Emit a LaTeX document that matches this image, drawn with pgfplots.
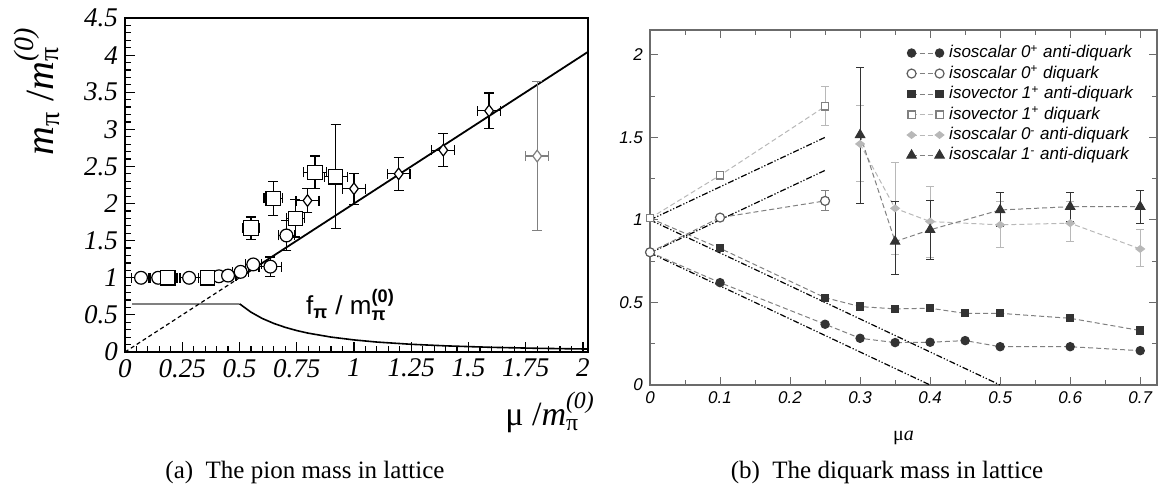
\documentclass[border=0pt]{standalone}
\usepackage{fontspec}
\setmainfont{Liberation Serif}
\newfontfamily\hel{Liberation Sans}
\usepackage{amsmath}
\usepackage{pgfplots}
\usepackage{pgfplotstable}
\pgfplotsset{compat=1.18}

\definecolor{dk}{gray}{0.2}
\definecolor{md}{gray}{0.5}
\definecolor{lt}{gray}{0.72}
\definecolor{frm}{gray}{0.42}

% (a) lattice points: x y ex ey
\pgfplotstableread{
x     y     ex    ey
0.07  1.00  0.04  0
0.145 1.00  0.04  0
0.28  1.00  0.04  0
0.41  1.02  0.035 0.02
0.45  1.03  0.035 0.02
0.505 1.08  0.035 0.03
0.56  1.18  0.035 0.03
0.635 1.15  0.05  0.13
0.705 1.57  0.035 0.20
}\circs
\pgfplotstableread{
x     y     ex    ey
0.187 1.00  0.04  0
0.36  1.00  0.04  0
0.55  1.67  0.035 0.15
0.647 2.07  0.04  0.23
0.744 1.80  0.04  0.25
0.83  2.42  0.05  0.22
0.92  2.36  0.05  0.70
}\squs
\pgfplotstableread{
x     y     ex    ey
0.797 2.04  0.05  0.16
1.0   2.20  0.05  0.21
1.195 2.40  0.05  0.22
1.39  2.72  0.05  0.22
1.59  3.25  0.05  0.24
}\dias
\pgfplotstableread{
x     y     ex    ey
1.80  2.64  0.05  1.0
}\diagray

\pgfplotsset{
  ebar/.style={error bars/.cd, x dir=both, x explicit, y dir=both, y explicit,
    error bar style={#1, solid, line width=0.6pt},
    error mark options={rotate=90, #1, solid, mark size=2.5pt, line width=0.6pt}},
  rbar/.style={error bars/.cd, y dir=both, y explicit,
    error bar style={#1, solid, line width=0.5pt},
    error mark options={rotate=90, #1, solid, mark size=2pt, line width=0.5pt}},
  ser/.style={#1, line width=0.5pt, dash pattern=on 2.5pt off 1.5pt},
  theo/.style={black, line width=0.6pt, dash pattern=on 3pt off 1pt on 0.6pt off 1pt on 0.6pt off 1pt, forget plot},
}

\begin{document}
\begin{tikzpicture}
\path[use as bounding box] (0pt,0pt) rectangle (581pt,-244pt);

\begin{axis}[
  at={(62.5pt,-176pt)}, anchor=south west,
  scale only axis, width=231.5pt, height=167pt,
  xmin=0, xmax=2.022, ymin=0, ymax=4.5,
  xtick={0,0.25,0.5,0.75,1,1.25,1.5,1.75,2},
  ytick={0,0.5,1,1.5,2,2.5,3,3.5,4,4.5},
  minor x tick num=4, minor y tick num=4,
  tick pos=left, tick align=inside,
  major tick length=5pt, minor tick length=3pt,
  axis line style={line width=0.9pt},
  every tick/.style={black, line width=0.6pt},
  /pgf/number format/assume math mode=true,
  tick label style={font=\itshape\fontsize{13.5}{14}\selectfont},
  xlabel={$\text{μ /}\text{\itshape m}_{\text{π}}^{\text{\itshape (0)}}$},
  x label style={at={(axis description cs:1.03,-0.1)}, anchor=north east,
    font=\fontsize{17}{18}\selectfont},
  ylabel={$\text{\itshape m}_{\text{π}}\ \text{/}\text{\itshape m}_{\text{π}}^{\text{\itshape (0)}}$},
  y label style={at={(axis description cs:-0.19,0.78)}, anchor=center,
    font=\fontsize{20}{21}\selectfont},
  clip=false,
]
% f_pi / m_pi
\addplot[md, line width=0.9pt] coordinates {(0.03,0.65) (0.5,0.65)};
\addplot[black, line width=0.8pt] coordinates {
  (0.5,0.65) (0.55,0.537) (0.6,0.451) (0.65,0.385) (0.7,0.332) (0.75,0.289)
  (0.8,0.254) (0.9,0.201) (1.0,0.163) (1.1,0.134) (1.25,0.104) (1.4,0.083)
  (1.6,0.063) (1.8,0.050) (2.0,0.041) (2.022,0.040)};
% m_pi = 2 mu
\addplot[black, line width=0.6pt, dash pattern=on 2pt off 1.5pt] coordinates {(0,0) (0.5,1)};
\addplot[black, line width=0.9pt] coordinates {(0.5,1) (2.022,4.044)};
% lattice data with error bars
\addplot[only marks, mark=*, mark size=3.2pt, mark options={draw=black, fill=white, line width=0.6pt}, ebar=black]
  table[x=x, y=y, x error=ex, y error=ey] {\circs};
\addplot[only marks, mark=square*, mark size=3.6pt, mark options={draw=black, fill=white, line width=0.6pt}, ebar=black]
  table[x=x, y=y, x error=ex, y error=ey] {\squs};
\addplot[only marks, mark=diamond*, mark size=2.9pt, mark options={draw=black, fill=white, line width=0.6pt}, ebar=black]
  table[x=x, y=y, x error=ex, y error=ey] {\dias};
\addplot[only marks, mark=diamond*, mark size=2.9pt, mark options={draw=md, fill=white, line width=0.6pt}, ebar=md]
  table[x=x, y=y, x error=ex, y error=ey] {\diagray};
\node[anchor=base west, font=\hel\fontsize{13}{14}\selectfont] at (axis cs:0.76,0.5)
  {$\text{f}_{\text{\bfseries π}}\ \text{/ m}_{\text{\bfseries π}}^{\text{\bfseries (0)}}$};
\end{axis}

\begin{axis}[
  at={(325pt,-192.5pt)}, anchor=south west,
  scale only axis, width=253.5pt, height=177.5pt,
  xmin=0, xmax=0.724, ymin=0, ymax=2.15,
  xtick={0,0.1,0.2,0.3,0.4,0.5,0.6,0.7},
  ytick={0,0.5,1,1.5,2},
  minor x tick num=1, minor y tick num=1,
  tick pos=both, tick align=inside,
  major tick length=4pt, minor tick length=2.5pt,
  axis line style={frm, line width=0.6pt},
  every tick/.style={frm, line width=0.5pt},
  /pgf/number format/assume math mode=true,
  tick label style={font=\hel\itshape\fontsize{8.5}{9}\selectfont},
  xlabel={μ\textit{a}},
  x label style={at={(axis description cs:0.5,-0.15)}, anchor=center,
    font=\fontsize{10}{11}\selectfont},
  legend style={at={(axis description cs:0.975,0.975)}, anchor=north east,
    draw=none, fill=none, font=\hel\itshape\fontsize{8.5}{9}\selectfont,
    row sep=0.5pt, nodes={inner ysep=1pt, inner xsep=2.5pt}},
  legend cell align=left,
  legend image code/.code={\draw[#1] plot coordinates {(0pt,0pt) (14pt,0pt)};},
]
% mean-field lines
\addplot[theo] coordinates {(0,1) (0.25,1.5)};
\addplot[theo] coordinates {(0,0.8) (0.25,1.3)};
\addplot[theo] coordinates {(0,1) (0.5,0)};
\addplot[theo] coordinates {(0,0.8) (0.4,0)};
% series
\addplot[ser=md, mark=*, mark size=2.1pt, mark options={solid, draw=dk, fill=dk}] coordinates {
  (0,0.804) (0.1,0.62) (0.25,0.368) (0.3,0.283) (0.35,0.257) (0.4,0.259)
  (0.45,0.269) (0.5,0.232) (0.6,0.232) (0.7,0.208)};
\addlegendentry{isoscalar 0\textsuperscript{+} anti-diquark}
\addplot[ser=md, mark=*, mark size=2.25pt, mark options={solid, draw=dk!80, fill=white, line width=0.6pt}, rbar=md] coordinates {
  (0,0.804) +- (0,0) (0.1,1.014) +- (0,0) (0.25,1.115) += (0,0.065) -= (0,0.058)};
\addlegendentry{isoscalar 0\textsuperscript{+} diquark}
\addplot[ser=md, mark=square*, mark size=1.8pt, mark options={solid, draw=dk, fill=dk}] coordinates {
  (0,1.01) (0.1,0.828) (0.25,0.529) (0.3,0.475) (0.35,0.461) (0.4,0.465)
  (0.45,0.434) (0.5,0.434) (0.6,0.404) (0.7,0.33)};
\addlegendentry{isovector 1\textsuperscript{+} anti-diquark}
\addplot[ser=lt, mark=square*, mark size=1.8pt, mark options={solid, draw=md, fill=white, line width=0.6pt}, rbar=lt] coordinates {
  (0,1.01) +- (0,0) (0.1,1.27) +- (0,0) (0.25,1.687) += (0,0.123) -= (0,0.117)};
\addlegendentry{isovector 1\textsuperscript{+} diquark}
\addplot[ser=lt, mark=diamond*, mark size=1.7pt, mark options={solid, draw=lt, fill=lt, xscale=1.7}, rbar=lt] coordinates {
  (0.3,1.46) += (0,0.23) -= (0,0.23)
  (0.35,1.07) += (0,0.28) -= (0,0.28)
  (0.4,0.99) += (0,0.21) -= (0,0.22)
  (0.5,0.97) += (0,0.14) -= (0,0.14)
  (0.6,0.98) += (0,0.13) -= (0,0.11)
  (0.7,0.824) += (0,0.116) -= (0,0.107)};
\addlegendentry{isoscalar 0\textsuperscript{-} anti-diquark}
\addplot[ser=md, mark=triangle*, mark size=2.7pt, mark options={solid, draw=dk, fill=dk}, rbar=dk] coordinates {
  (0.3,1.515) += (0,0.405) -= (0,0.415)
  (0.35,0.869) += (0,0.24) -= (0,0.2)
  (0.4,0.94) += (0,0.18) -= (0,0.18)
  (0.5,1.06) += (0,0.106) -= (0,0.1)
  (0.6,1.08) += (0,0.086) -= (0,0.09)
  (0.7,1.08) += (0,0.1) -= (0,0.1)};
\addlegendentry{isoscalar 1\textsuperscript{-} anti-diquark}
\end{axis}

\node[anchor=base, font=\fontsize{12.5}{13}\selectfont] at (152.5pt,-239pt) {(a)\ \ The pion mass in lattice};
\node[anchor=base, font=\fontsize{12.5}{13}\selectfont] at (443.5pt,-239pt) {(b)\ \ The diquark mass in lattice};
\end{tikzpicture}
\end{document}
